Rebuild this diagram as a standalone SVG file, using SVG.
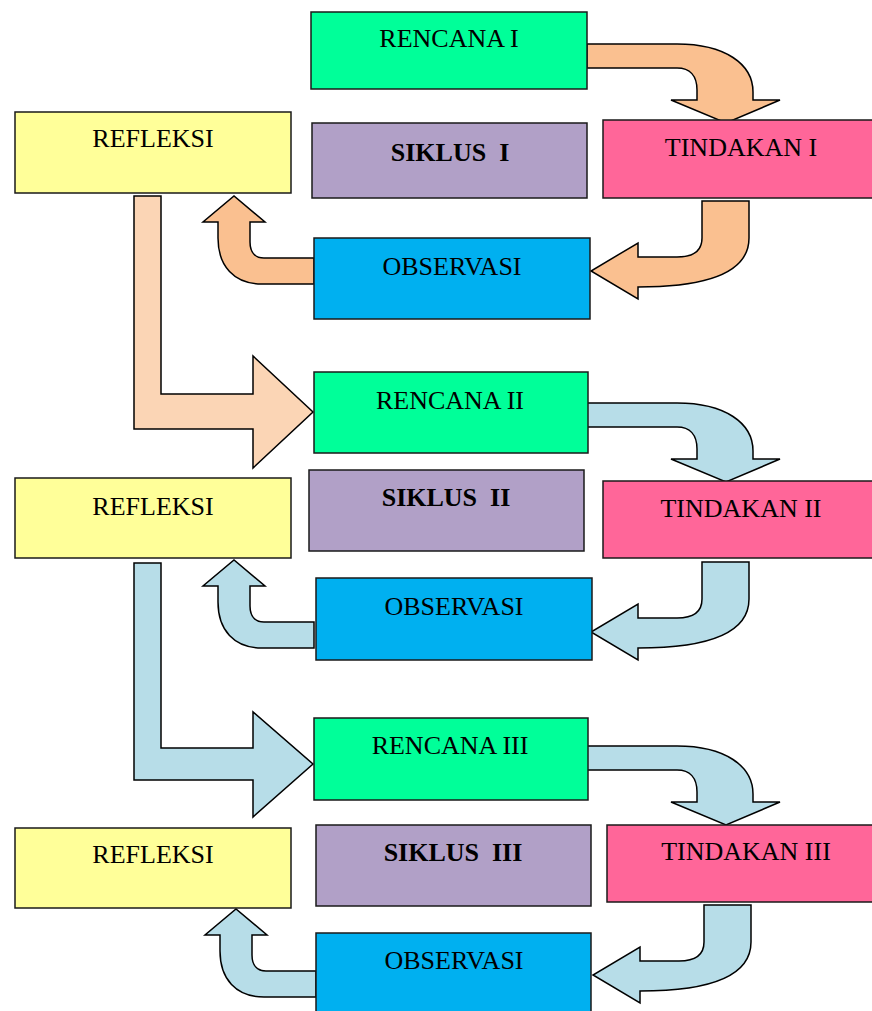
<svg xmlns="http://www.w3.org/2000/svg" width="872" height="1011" viewBox="0 0 872 1011">
<style>
.box{stroke:#1a1a1a;stroke-width:1.5}
.ren{fill:#00FF99}
.ref{fill:#FFFF99}
.sik{fill:#B1A0C7}
.tin{fill:#FF6699}
.obs{fill:#00B0F0}
.arr{stroke:#000;stroke-width:1.5;stroke-linejoin:miter}
.pe{fill:#FAC090}
.lp{fill:#FBD5B5}
.lb{fill:#B7DDE8}
text{font-family:"Liberation Serif","Times New Roman",serif;font-size:26px;fill:#000;text-anchor:middle;white-space:pre}
.b{font-weight:bold}
</style>
<rect width="872" height="1011" fill="#fff"/>
<g id="connectors">
  <!-- cycle 1 -->
  <path class="arr pe" d="M587,44 L677,44 C725,44 753,64 753,92 L753,100 L780,100 L726,123 L671,100 L697,100 L697,90 C697,76 690,68 677,68 L587,68 Z"/>
  <path class="arr pe" d="M702,201 L749,201 L749,238 C749,270 715,287 638,287 L638,299 L591,271 L638,243 L638,257 L677,257 C694,257 702,250 702,238 Z"/>
  <path class="arr pe" d="M314,258 L264,258 C255,258 250,252 250,242 L250,222 L265,222 L234,196 L203,222 L218,222 L218,238 C218,266 234,284 262,284 L314,284 Z"/>
  <path class="arr lp" d="M134,196 L161,196 L161,394 L253,394 L253,356 L313,412 L253,468 L253,429 L134,429 Z"/>
  <!-- cycle 2 -->
  <path class="arr lb" transform="translate(0,359)" d="M587,44 L677,44 C725,44 753,64 753,92 L753,100 L780,100 L726,123 L671,100 L697,100 L697,90 C697,76 690,68 677,68 L587,68 Z"/>
  <path class="arr lb" transform="translate(0,361)" d="M702,201 L749,201 L749,238 C749,270 715,287 638,287 L638,299 L591,271 L638,243 L638,257 L677,257 C694,257 702,250 702,238 Z"/>
  <path class="arr lb" transform="translate(0,364)" d="M314,258 L264,258 C255,258 250,252 250,242 L250,222 L265,222 L234,196 L203,222 L218,222 L218,238 C218,266 234,284 262,284 L314,284 Z"/>
  <path class="arr lb" d="M134,563 L161,563 L161,748 L253,748 L253,712 L313,764 L253,817 L253,780 L134,780 Z"/>
  <!-- cycle 3 -->
  <path class="arr lb" transform="translate(0,702)" d="M587,44 L677,44 C725,44 753,64 753,92 L753,100 L780,100 L726,123 L671,100 L697,100 L697,90 C697,76 690,68 677,68 L587,68 Z"/>
  <path class="arr lb" transform="translate(2,704)" d="M702,201 L749,201 L749,238 C749,270 715,287 638,287 L638,299 L591,271 L638,243 L638,257 L677,257 C694,257 702,250 702,238 Z"/>
  <path class="arr lb" transform="translate(2,713)" d="M314,258 L264,258 C255,258 250,252 250,242 L250,222 L265,222 L234,196 L203,222 L218,222 L218,238 C218,266 234,284 262,284 L314,284 Z"/>
</g>
<g id="rencana1"><rect class="box ren" x="311" y="12" width="276" height="77"/><text x="449" y="47">RENCANA I</text></g>
<g id="refleksi1"><rect class="box ref" x="15" y="112" width="276" height="81"/><text x="153" y="147">REFLEKSI</text></g>
<g id="siklus1"><rect class="box sik" x="312" y="123" width="275" height="75"/><text class="b" x="450" y="161">SIKLUS  I</text></g>
<g id="tindakan1"><rect class="box tin" x="603" y="120" width="280" height="78"/><text x="741" y="156">TINDAKAN I</text></g>
<g id="observasi1"><rect class="box obs" x="314" y="238" width="276" height="81"/><text x="452" y="275">OBSERVASI</text></g>

<g id="rencana2"><rect class="box ren" x="314" y="372" width="274" height="81"/><text x="450" y="409">RENCANA II</text></g>
<g id="refleksi2"><rect class="box ref" x="15" y="478" width="276" height="80"/><text x="153" y="515">REFLEKSI</text></g>
<g id="siklus2"><rect class="box sik" x="309" y="470" width="275" height="81"/><text class="b" x="446" y="506">SIKLUS  II</text></g>
<g id="tindakan2"><rect class="box tin" x="603" y="481" width="280" height="77"/><text x="741" y="517">TINDAKAN II</text></g>
<g id="observasi2"><rect class="box obs" x="316" y="578" width="276" height="82"/><text x="454" y="615">OBSERVASI</text></g>

<g id="rencana3"><rect class="box ren" x="314" y="718" width="274" height="82"/><text x="450" y="754">RENCANA III</text></g>
<g id="refleksi3"><rect class="box ref" x="15" y="828" width="276" height="80"/><text x="153" y="863">REFLEKSI</text></g>
<g id="siklus3"><rect class="box sik" x="316" y="825" width="275" height="81"/><text class="b" x="453" y="861">SIKLUS  III</text></g>
<g id="tindakan3"><rect class="box tin" x="607" y="825" width="280" height="77"/><text x="746" y="860">TINDAKAN III</text></g>
<g id="observasi3"><rect class="box obs" x="316" y="933" width="275" height="90"/><text x="454" y="969">OBSERVASI</text></g>
</svg>
